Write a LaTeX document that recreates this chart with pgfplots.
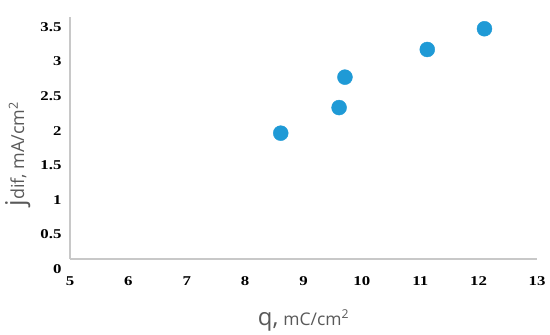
\documentclass[border=0pt]{standalone}
\usepackage{fontspec}
\setmainfont{Liberation Serif}
\newfontfamily\tickfont[FakeStretch=1.25]{Liberation Serif}
\newfontfamily\labelfont{Open Sans}
\usepackage{pgfplots}
\pgfplotsset{compat=1.18}
\usetikzlibrary{calc}
\definecolor{dotblue}{RGB}{31,154,214}
\definecolor{axgray}{RGB}{200,200,200}
\definecolor{labgray}{RGB}{89,89,89}

\begin{document}
\begin{tikzpicture}
\begin{axis}[
  name=ax,
  scale only axis,
  width=467bp, height=242bp,
  xmin=5, xmax=13, ymin=0, ymax=3.5,
  xtick={5,6,...,13},
  ytick={0,0.5,...,3.5},
  axis lines*=left,
  axis line style={axgray, line width=1.2bp},
  major tick length=0pt,
  tick label style={font=\tickfont\fontsize{13.5}{13.5}\selectfont\bfseries, black},
  /pgf/number format/assume math mode=true,
  yticklabel style={xshift=-5bp, yshift=-10bp},
  xticklabel style={yshift=-14bp},
  clip=false,
]
\addplot[only marks, mark=*, mark size=7.5bp, dotblue, mark options={draw=dotblue, fill=dotblue}]
  coordinates {(8.61,1.82)(9.61,2.19)(9.71,2.63)(11.12,3.03)(12.10,3.33)};
\end{axis}
\node[labgray, anchor=base, inner sep=0pt] at ($(ax.south)+(0,-66bp)$)
  {\labelfont{\fontsize{24}{24}\selectfont q,}\hspace{5bp}{\fontsize{17.5}{17.5}\selectfont mC/cm\textsuperscript{2}}};
\node[labgray, anchor=base, rotate=90, inner sep=0pt] at ($(ax.west)+(-46bp,-16bp)$)
  {\labelfont{\fontsize{26}{26}\selectfont j}{\fontsize{18}{18}\selectfont dif, mA/cm\textsuperscript{2}}};
\path ($(ax.south west)+(-70bp,-76bp)$) rectangle ($(ax.north east)+(13bp,17bp)$);
\end{tikzpicture}
\end{document}
